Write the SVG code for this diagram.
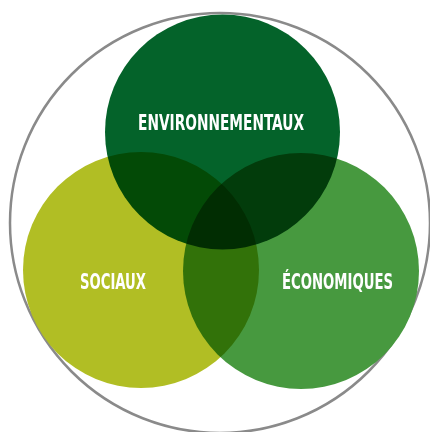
<svg xmlns="http://www.w3.org/2000/svg" width="430" height="432" viewBox="0 0 430 432">
<style>
.c{mix-blend-mode:multiply}
.t{font-family:"DejaVu Sans Condensed","DejaVu Sans",sans-serif;font-stretch:condensed;font-weight:bold;font-size:22px;fill:#fff;text-anchor:middle}
</style>
<rect width="430" height="432" fill="#fff"/>
<circle cx="220" cy="223" r="210" fill="none" stroke="#8a8a8a" stroke-width="2.5"/>
<g style="isolation:isolate">
<g id="environnementaux"><circle class="c" cx="222.5" cy="132" r="117.5" fill="#04632a"/></g>
<g id="sociaux"><circle class="c" cx="141" cy="270" r="118" fill="#b1be24"/></g>
<g id="economiques"><circle class="c" cx="301" cy="271" r="118" fill="#47993f"/></g>
</g>
<g id="connectors"/>
<text class="t" transform="translate(221,129.5) scale(0.69,1)" x="0" y="0" textLength="240.6" lengthAdjust="spacingAndGlyphs">ENVIRONNEMENTAUX</text>
<text class="t" transform="translate(113,288.5) scale(0.69,1)" x="0" y="0" textLength="95.6" lengthAdjust="spacingAndGlyphs">SOCIAUX</text>
<text class="t" transform="translate(337.5,288.5) scale(0.69,1)" x="0" y="0" textLength="160.9" lengthAdjust="spacingAndGlyphs">ÉCONOMIQUES</text>
</svg>
